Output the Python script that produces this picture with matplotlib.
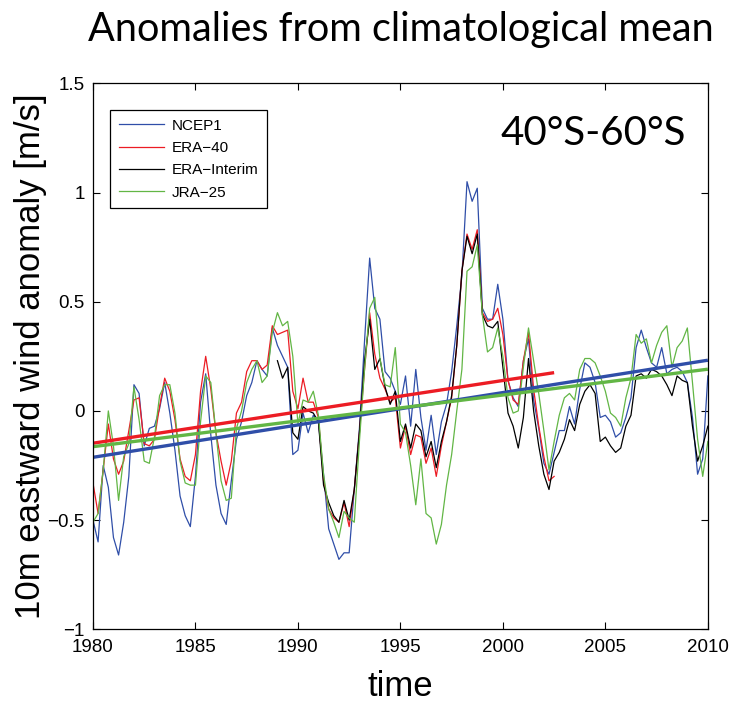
import numpy as np
import matplotlib
matplotlib.use('Agg')
import matplotlib.pyplot as plt

# 10m eastward wind anomaly [m/s], 40S-60S, values read every quarter year
ncep1 = [
    -0.50, -0.60, -0.25, -0.35,   # 1980
    -0.58, -0.66, -0.51, -0.30,
    0.12, 0.08, -0.16, -0.08,
    -0.07, 0.01, 0.13, -0.01,
    -0.18, -0.39, -0.48, -0.53,
    -0.30, 0.04, 0.17, -0.11,     # 1985
    -0.34, -0.47, -0.52, -0.32,
    -0.13, -0.05, 0.07, 0.13,
    0.23, 0.19, 0.16, 0.38,
    0.30, 0.25, 0.20, -0.20,
    -0.18, -0.01, -0.10, -0.02,   # 1990
    -0.05, -0.29, -0.54, -0.61,
    -0.68, -0.65, -0.65, -0.36,
    -0.08, 0.32, 0.70, 0.47,
    0.42, 0.18, 0.15, 0.09,
    0.03, 0.16, -0.07, 0.19,      # 1995
    -0.03, -0.18, -0.02, -0.20,
    -0.05, 0.03, 0.18, 0.39,
    0.62, 1.05, 0.96, 1.02,
    0.47, 0.42, 0.42, 0.58,
    0.42, 0.14, 0.06, 0.02,       # 2000
    0.23, 0.33, 0.05, -0.08,
    -0.24, -0.29, -0.19, -0.09,
    -0.09, 0.02, -0.06, 0.10,
    0.22, 0.20, 0.13, -0.03,
    -0.02, -0.05, -0.12, -0.10,   # 2005
    -0.03, 0.06, 0.29, 0.37,
    0.29, 0.22, 0.20, 0.29,
    0.17, 0.19, 0.20, 0.18,
    0.13, -0.03, -0.29, -0.22,
    0.16,
]

era40 = [
    -0.33, -0.47, -0.27, -0.06,   # 1980
    -0.22, -0.29, -0.23, -0.09,
    0.05, 0.06, -0.15, -0.16,
    -0.13, 0.02, 0.15, 0.09,
    -0.04, -0.22, -0.30, -0.32,
    -0.20, 0.09, 0.25, 0.10,      # 1985
    -0.10, -0.23, -0.34, -0.23,
    -0.01, 0.04, 0.18, 0.23,
    0.23, 0.19, 0.21, 0.39,
    0.35, 0.36, 0.37, 0.09,
    0.01, 0.15, 0.04, 0.04,       # 1990
    -0.03, -0.32, -0.45, -0.49,
    -0.51, -0.42, -0.53, -0.36,
    -0.10, 0.19, 0.45, 0.26,
    0.15, 0.10, 0.04, 0.06,
    -0.17, -0.07, -0.20, -0.11,   # 1995
    -0.12, -0.24, -0.17, -0.30,
    -0.16, -0.05, 0.06, 0.30,
    0.64, 0.81, 0.74, 0.83,
    0.45, 0.41, 0.42, 0.47,
    0.35, 0.14, 0.05, 0.03,       # 2000
    0.23, 0.36, 0.10, -0.07,
    -0.21, -0.32, -0.30,
]

era_interim = [
    0.23, 0.15, 0.20, -0.10,      # 1989
    -0.13, 0.02, 0.00, -0.01,     # 1990
    -0.05, -0.34, -0.42, -0.48,
    -0.51, -0.41, -0.50, -0.36,
    -0.10, 0.23, 0.42, 0.19,
    0.24, 0.11, 0.03, 0.09,
    -0.14, -0.06, -0.17, -0.06,   # 1995
    -0.09, -0.21, -0.14, -0.26,
    -0.14, -0.05, 0.07, 0.30,
    0.64, 0.80, 0.72, 0.81,
    0.44, 0.39, 0.38, 0.41,
    0.20, -0.01, -0.07, -0.17,    # 2000
    -0.03, 0.24, 0.00, -0.16,
    -0.29, -0.36, -0.23, -0.19,
    -0.13, -0.04, -0.09, 0.03,
    0.09, 0.12, 0.08, -0.14,
    -0.12, -0.16, -0.19, -0.17,   # 2005
    -0.07, -0.02, 0.16, 0.17,
    0.15, 0.19, 0.18, 0.16,
    0.12, 0.07, 0.16, 0.14,
    0.13, -0.07, -0.23, -0.16,
    -0.07,
]

jra25 = [
    -0.51, -0.47, -0.27, 0.00,    # 1980
    -0.16, -0.41, -0.21, -0.15,
    0.11, -0.04, -0.23, -0.24,
    -0.12, 0.07, 0.12, 0.12,
    -0.01, -0.23, -0.33, -0.34,
    -0.34, -0.05, 0.16, 0.13,     # 1985
    -0.10, -0.32, -0.41, -0.40,
    -0.08, 0.00, 0.13, 0.19,
    0.23, 0.13, 0.16, 0.36,
    0.45, 0.39, 0.41, 0.25,
    -0.06, 0.05, 0.04, 0.09,      # 1990
    -0.02, -0.29, -0.45, -0.51,
    -0.58, -0.46, -0.49, -0.51,
    -0.14, 0.19, 0.47, 0.52,
    0.24, 0.12, 0.11, 0.29,
    -0.06, -0.10, -0.25, -0.43,   # 1995
    -0.22, -0.47, -0.49, -0.61,
    -0.52, -0.34, -0.20, 0.00,
    0.19, 0.64, 0.66, 0.76,
    0.44, 0.27, 0.29, 0.38,
    0.25, 0.06, -0.01, 0.00,      # 2000
    0.20, 0.38, 0.23, 0.08,
    -0.09, -0.27, -0.14, -0.02,
    0.06, 0.08, 0.05, 0.19,
    0.24, 0.24, 0.22, 0.16,
    0.09, -0.01, -0.03, -0.07,    # 2005
    0.06, 0.15, 0.35, 0.31,
    0.33, 0.22, 0.30, 0.36,
    0.39, 0.20, 0.29, 0.32,
    0.38, 0.13, -0.13, -0.30,
    -0.14,
]

# name, values, first year, colour, draw trend
series = [
    ('NCEP1', ncep1, 1980, '#2f4ea8', True),
    ('ERA\u221240', era40, 1980, '#ec1c24', True),
    ('ERA\u2212Interim', era_interim, 1989, 'black', False),
    ('JRA\u221225', jra25, 1980, '#62b645', True),
]

yticks = [-1, -0.5, 0, 0.5, 1, 1.5]
ytick_labels = ['\u22121', '\u22120.5', '0', '0.5', '1', '1.5']
xticks = [1980, 1985, 1990, 1995, 2000, 2005, 2010]

plt.rcParams['font.family'] = ['Liberation Sans', 'DejaVu Sans']

fig = plt.figure(figsize=(7.32, 7.07), dpi=100)
ax = fig.add_axes([0.127, 0.110, 0.840, 0.772])

trends = []
for name, vals, y0, col, fit in series:
    t = y0 + 0.25 * np.arange(len(vals))
    ax.plot(t, vals, color=col, lw=0.9, label=name)
    if fit:
        p = np.polyfit(t, vals, 1)
        trends.append((t[[0, -1]], np.polyval(p, t[[0, -1]]), col))

for tt, yy, col in trends:
    ax.plot(tt, yy, color=col, lw=2.4, solid_capstyle='butt')

ax.set_xlim(1980, 2010)
ax.set_ylim(-1, 1.5)
ax.set_xticks(xticks)
ax.set_yticks(yticks)
ax.set_yticklabels(ytick_labels)
ax.tick_params(direction='in', top=True, right=True, length=5, width=0.8,
               labelsize=13.5)
ax.tick_params(axis='x', pad=7)
ax.tick_params(axis='y', pad=6)
for s in ax.spines.values():
    s.set_linewidth(0.9)

ax.set_xlabel('time', fontsize=25)
ax.xaxis.set_label_coords(0.5, -0.075)
ax.set_ylabel('10m eastward wind anomaly [m/s]', fontsize=25)
ax.yaxis.set_label_coords(-0.075, 0.5)

leg = ax.legend(loc='upper left', bbox_to_anchor=(0.028, 0.951), borderaxespad=0,
                fontsize=11, fancybox=False, framealpha=1, edgecolor='black',
                handlelength=3.0, handletextpad=0.5, labelspacing=0.55,
                borderpad=0.55)
leg.get_frame().set_linewidth(0.9)

ax.text(0.662, 0.909, '40\u00b0S-60\u00b0S', transform=ax.transAxes,
        fontsize=29, family=['Lato', 'DejaVu Sans'], va='center', ha='left')
fig.text(0.547, 1 - 30 / 707, 'Anomalies from climatological mean',
         fontsize=28.5, family=['Lato', 'DejaVu Sans'], ha='center', va='center')

fig.savefig('out.png', dpi=100)
